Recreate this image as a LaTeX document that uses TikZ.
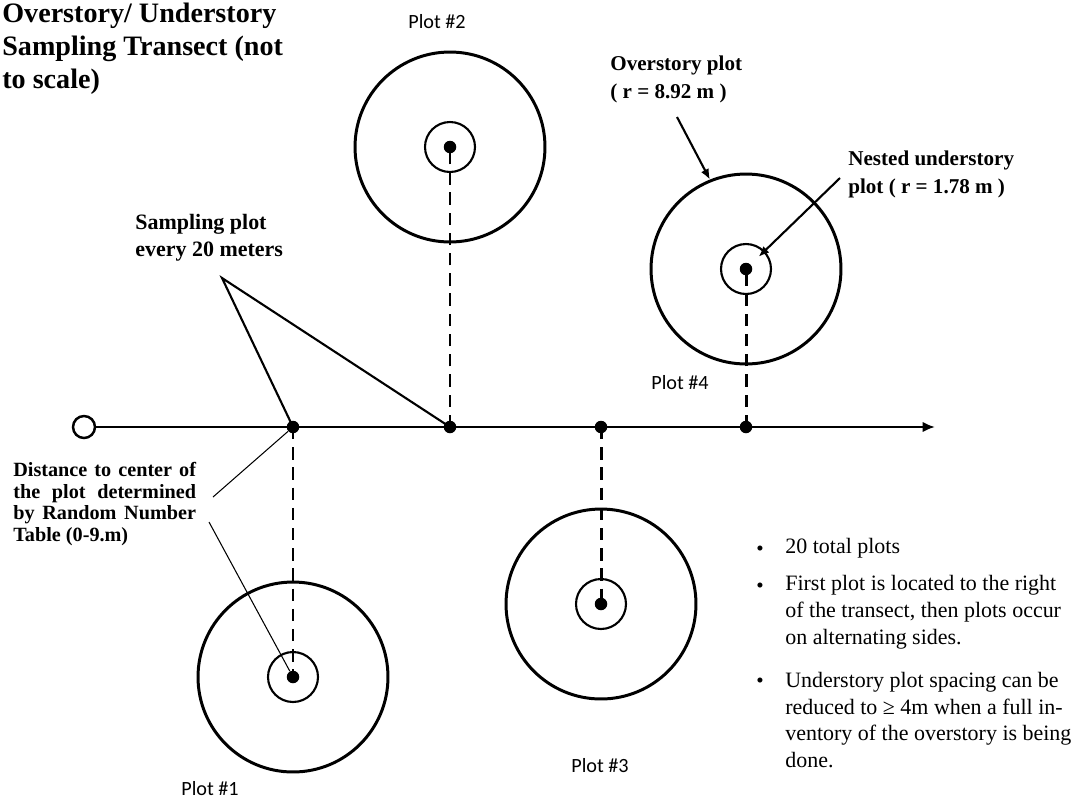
\documentclass[tikz,border=0pt]{standalone}
\usepackage{fontspec}
\setmainfont{Liberation Serif}
\newfontfamily\plotfont{Carlito}
\usetikzlibrary{arrows.meta,positioning,calc}

\begin{document}
\begin{tikzpicture}[
    x=0.02cm, y=-0.02cm,
    over/.style={circle, draw, line width=1.7pt, minimum size=3.8cm, inner sep=0pt},
    under/.style={circle, draw, line width=1.2pt, minimum size=1cm, inner sep=0pt},
    dot/.style={circle, fill, minimum size=0.25cm, inner sep=0pt},
    stem/.style={line width=1.7pt, dash pattern=on 7pt off 4.5pt},
    arr/.style={-{Latex[length=6pt,width=5pt]}, line width=1.2pt},
    lbl/.style={font=\fontsize{12}{16}\selectfont\bfseries, align=left, inner sep=0pt, anchor=west},
    plt/.style={font=\plotfont\fontsize{11.5}{14}\selectfont, inner sep=0pt},
    note/.style={font=\fontsize{12.5}{15.3}\selectfont, align=left, inner sep=0pt, anchor=west},
]
\useasboundingbox (0,0) rectangle (1078,802);

%% Transect with the four plots
\node[circle, draw, line width=1.4pt, minimum size=0.44cm, inner sep=0pt] (start) at (84,427) {};
\coordinate (tip) at (935,427);
\foreach \n/\x/\y in {1/293/677, 2/450/147, 3/601/604, 4/746/269} {
  \node[dot]   (d\n) at (\x,427) {};
  \node[dot]   (c\n) at (\x,\y) {};
  \node[over]  (o\n) at (c\n) {};
  \node[under] (i\n) at (c\n) {};
}
\draw[line width=1.4pt, -{Latex[length=7pt,width=6pt]}] (start) -- (tip);
\foreach \n in {1,...,4}
  \draw[stem] (d\n.center) -- (c\n.center);

%% Plot labels
\node[plt] (p1) at (210,789) {Plot \#1};
\node[plt] (p2) at (437,22)  {Plot \#2};
\node[plt] (p3) at (600,766) {Plot \#3};
\node[plt] (p4) at (680,383) {Plot \#4};

%% Title
\node[font=\fontsize{16}{18.7}\selectfont\bfseries, align=left, inner sep=0pt, anchor=west]
      (title) at (2,49) {Overstory/ Understory\\Sampling Transect (not\\to scale)};

%% Sampling plot callout
\coordinate (apex) at (222,278);
\node[lbl, font=\fontsize{12.5}{15.3}\selectfont\bfseries] (samp) at (135,238) {Sampling plot\\every 20 meters};
\draw[line width=1.2pt] (d1.center) -- (apex) -- (d2.center);

%% Distance callout
\node[font=\fontsize{11.5}{12.4}\selectfont\bfseries, text width=104pt, align=justify,
      inner sep=0pt, anchor=west]
      (dist) at (13,504) {\hyphenpenalty=10000 Distance to center of\linebreak the plot determined\linebreak
                          by Random Number\linebreak Table (0-9.m)};
\coordinate (dk1) at (213,497);
\coordinate (dk2) at (209,522);
\draw[line width=0.6pt] (dk1) -- (d1);
\draw[line width=0.6pt] (dk2) -- (c1);

%% Plot size callouts
\node[lbl] (ovl) at (610,79)  {Overstory plot\\( r = 8.92 m )};
\node[lbl] (nul) at (848,174) {Nested understory\\plot ( r = 1.78 m )};
\coordinate (ovtail) at (677,117);
\coordinate (nttail) at (840,178);
\draw[arr] (ovtail) -- (o4.112);
\draw[arr, shorten >=10pt] (nttail) -- (c4.center);

%% Notes
\node[note] (t1) at (785,548) {20 total plots};
\node[note] (t2) at (785,612) {First plot is located to the right\\of the transect, then plots occur\\on alternating sides.};
\node[note] (t3) at (785,720) {Understory plot spacing can be\\reduced to ≥ 4m when a full in-\\ventory of the overstory is being\\done.};
\foreach \y in {551,588,683}
  \node[font=\fontsize{12}{14}\selectfont, inner sep=0pt] at (760,\y) {\textbullet};

\end{tikzpicture}
\end{document}
